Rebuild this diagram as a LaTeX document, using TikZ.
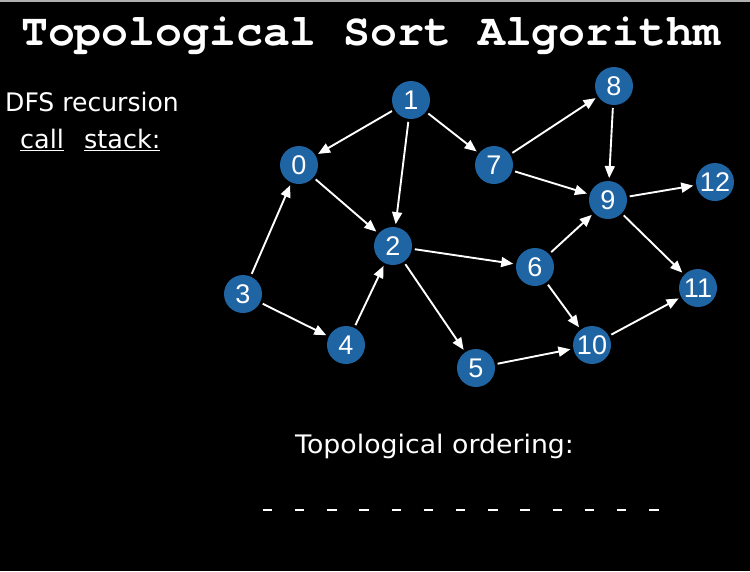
\documentclass[tikz,border=0pt]{standalone}
\usepackage{fontspec}
\setmainfont{DejaVu Sans}
\newfontfamily\titlefont{texgyrecursor-bold}[Extension=.otf]
\newfontfamily\digitfont{Liberation Sans}
\usetikzlibrary{arrows.meta}
\definecolor{nodeblue}{RGB}{31,100,163}
\definecolor{topgrey}{RGB}{175,175,175}
\tikzset{
  vert/.style={circle, fill=nodeblue, minimum size=38pt, inner sep=0pt, outer sep=3pt,
    text=white, font=\digitfont\fontsize{27}{27}\selectfont},
  edge/.style={draw=white, line width=1.9pt, -{Triangle[length=12pt,width=10pt]}},
  lbl/.style={text=white, inner sep=0pt, anchor=base west, font=\fontsize{25.5}{25.5}\selectfont},
  slot/.style={draw=white, line width=2pt}
}
\begin{document}
\begin{tikzpicture}[x=1pt,y=-1pt]
\fill[black] (0,0) rectangle (750,571);
\useasboundingbox (0,0) rectangle (750,571);
\fill[topgrey] (0,0) rectangle (750,2);
\node[text=white, inner sep=0pt, anchor=base west, font=\titlefont\fontsize{44.8}{44.8}\selectfont] (title) at (21,45) {Topological Sort Algorithm};
\node[lbl] (dfs) at (5,111) {\scalebox{0.983}[1]{DFS recursion}};
\node[lbl] (call) at (20,148) {\underline{call}};
\node[lbl] (stack) at (84,148) {\underline{stack:}};
\node[lbl] (topo) at (295,453) {\scalebox{1.05}[1]{Topological ordering:}};
% graph nodes
\node[vert] (n1) at (411,100) {1};
\node[vert] (n0) at (299,165) {0};
\node[vert] (n7) at (494,165) {7};
\node[vert] (n8) at (614,86) {8};
\node[vert] (n9) at (608,200) {9};
\node[vert] (n12) at (715,182) {12};
\node[vert] (n2) at (393,246) {2};
\node[vert] (n3) at (243,294) {3};
\node[vert] (n4) at (346,345) {4};
\node[vert] (n5) at (476,368) {5};
\node[vert] (n6) at (535,267) {6};
\node[vert] (n10) at (592,345) {10};
\node[vert] (n11) at (698,288) {11};
% edges
\draw[edge] (n1) -- (n0);
\draw[edge] (n1) -- (n2);
\draw[edge] (n1) -- (n7);
\draw[edge] (n0) -- (n2);
\draw[edge] (n3) -- (n0);
\draw[edge] (n3) -- (n4);
\draw[edge] (n4) -- (n2);
\draw[edge] (n2) -- (n6);
\draw[edge] (n2) -- (n5);
\draw[edge] (n7) -- (n8);
\draw[edge] (n7) -- (n9);
\draw[edge] (n8) -- (n9);
\draw[edge] (n6) -- (n9);
\draw[edge] (n9) -- (n12);
\draw[edge] (n9) -- (n11);
\draw[edge] (n6) -- (n10);
\draw[edge] (n5) -- (n10);
\draw[edge] (n10) -- (n11);
% ordering slots
\foreach \i in {0,...,12} {
  \coordinate (s\i) at ({262.7+\i*32.2},509.5);
  \draw[slot] (s\i) -- ++(9.5,0);
}
\end{tikzpicture}
\end{document}
